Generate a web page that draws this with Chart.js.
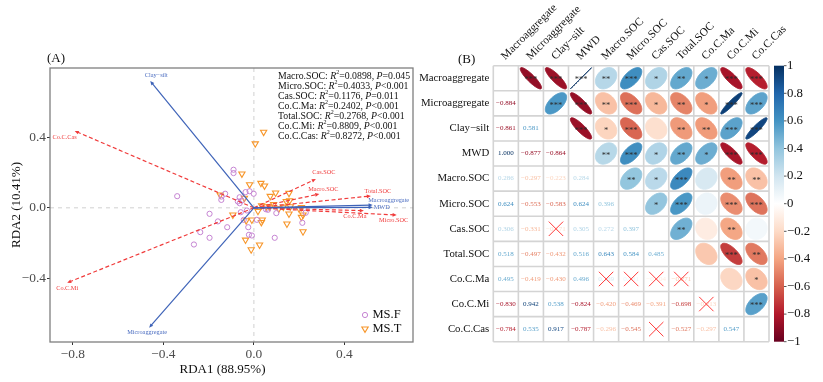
<!DOCTYPE html>
<html><head><meta charset="utf-8">
<script src="https://cdn.jsdelivr.net/npm/chart.js@4.4.1/dist/chart.umd.min.js"></script>
<style>
html,body{margin:0;padding:0;background:#fff;}
#wrap{position:relative;width:823px;height:382px;overflow:hidden;background:#fff;}
#cA{position:absolute;left:0;top:0;}
#cB{position:absolute;left:400px;top:0;}
</style></head><body>
<div id="wrap"><canvas id="cA" width="420" height="382"></canvas><canvas id="cB" width="423" height="382"></canvas></div>
<script>
// ---------------- DATA: panel A (RDA) ----------------
const msF_x = [-0.090,-0.090,-0.037,-0.019,-0.001,-0.339,-0.127,-0.143,-0.144,-0.063,-0.071,-0.054,-0.063,0.062,-0.196,-0.058,-0.031,0.099,0.229,-0.159,-0.045,0.013,0.214,-0.118,-0.025,-0.237,-0.022,-0.009,-0.196,0.092,-0.265,0.053];
const msF_y = [0.216,0.197,0.089,0.094,0.080,0.066,0.080,0.064,0.045,0.060,0.036,0.041,0.026,-0.011,-0.034,-0.025,-0.015,-0.030,-0.028,-0.077,-0.068,-0.068,-0.085,-0.110,-0.110,-0.138,-0.153,-0.157,-0.170,-0.170,-0.208,-0.008];
const msT_x = [0.043,0.006,-0.053,-0.019,0.031,0.047,0.096,0.155,-0.149,-0.042,0.072,0.143,0.034,0.055,0.087,0.161,0.200,0.018,0.110,0.130,-0.093,0.155,0.217,-0.034,-0.009,0.037,0.033,0.146,0.217,-0.037,0.025,-0.012,0.210,0.210,0.158,0.070];
const msT_y = [0.430,0.364,0.193,0.132,0.140,0.125,0.085,0.083,0.074,0.055,0.066,0.037,0.013,0.007,0.019,0.007,-0.006,-0.019,-0.005,0.005,-0.040,-0.034,-0.040,-0.072,-0.068,-0.068,-0.082,-0.091,-0.135,-0.182,-0.210,-0.237,0.003,-0.053,0.041,0.005];
const groupNames = ['MS.F','MS.T'];

const envNames = ['Clay\u2212silt','Microaggregate','Macroaggregate','MWD'];
const envX = [-0.458,-0.463,0.525,0.525];
const envY = [0.719,-0.680,0.016,0.003];

const respNames = ['Co.C.Cas','Co.C.Mi','Cas.SOC','Macro.SOC','Total.SOC','Micro.SOC','Co.C.Ma'];
const respX = [-0.792,-0.825,0.274,0.289,0.517,0.631,0.486];
const respY = [0.436,-0.425,0.163,0.078,0.067,-0.041,-0.016];

const fitNames = ['Macro.SOC','Micro.SOC','Cas.SOC','Co.C.Ma','Total.SOC','Co.C.Mi','Co.C.Cas'];
const fitR2 = ['0.0898','0.4033','0.1176','0.2402','0.2768','0.8809','0.8272'];
const fitP = ['=0.045','<0.001','=0.011','<0.001','<0.001','<0.001','<0.001'];

const xTicksA = [-0.8,-0.4,0,0.4];
const yTicksA = [-0.4,0,0.4];
const xTitleA = 'RDA1 (88.95%)';
const yTitleA = 'RDA2 (10.41%)';

// ---------------- DATA: panel B (correlation) ----------------
const corrVars = ['Macroaggregate','Microaggregate','Clay\u2212silt','MWD','Macro.SOC','Micro.SOC','Cas.SOC','Total.SOC','Co.C.Ma','Co.C.Mi','Co.C.Cas'];
const corrLower = [
  [],
  [-0.884],
  [-0.861,0.581],
  [1.000,-0.877,-0.864],
  [0.286,-0.297,-0.223,0.284],
  [0.624,-0.553,-0.583,0.624,0.396],
  [0.306,-0.331,-0.171,0.305,0.272,0.397],
  [0.518,-0.497,-0.432,0.516,0.643,0.584,0.485],
  [0.495,-0.419,-0.430,0.496,0.169,0.081,-0.104,-0.271],
  [-0.830,0.942,0.538,-0.824,-0.420,-0.469,-0.391,-0.698,-0.213],
  [-0.784,0.535,0.917,-0.787,-0.296,-0.545,0.052,-0.527,-0.297,0.547]
];
const corrStars = [
  ['***','***','***','**','***','*','**','*','***','***'],
  ['***','***','**','***','*','**','*','***','***'],
  ['***','*','***','','**','**','***','***'],
  ['**','***','*','**','*','***','***'],
  ['**','*','***','','**','**'],
  ['*','***','','***','***'],
  ['**','','**',''],
  ['','***','**'],
  ['','*'],
  ['***'],
  []
];
const cbTicks = [1,0.8,0.6,0.4,0.2,0,-0.2,-0.4,-0.6,-0.8,-1];

// ---------------- STYLE / LAYOUT ----------------
const FAM = "'Liberation Serif', 'Times New Roman', serif";
const COL_F = '#C584D2', COL_T = '#F7962A';
const COL_ENV = '#3E63B8', COL_RESP = '#F03A3A';
const envNudge = [[6,-6],[-2,5],[16,-4.5],[9,0.5]];
const respNudge = [[-10,6],[0,6],[8,-7],[4,-5],[7,-5],[-3,5],[-9,5.5]];
const RDBU = ['#67001F','#B2182B','#D6604D','#F4A582','#FDDBC7','#FFFFFF','#D1E5F0','#92C5DE','#4393C3','#2166AC','#053061'];

function hex2rgb(h){return [parseInt(h.slice(1,3),16),parseInt(h.slice(3,5),16),parseInt(h.slice(5,7),16)];}
function corrColor(r){
  const t=(Math.max(-1,Math.min(1,r))+1)/2*10; const i=Math.min(9,Math.floor(t)); const f=t-i;
  const a=hex2rgb(RDBU[i]), b=hex2rgb(RDBU[i+1]);
  return 'rgb('+a.map((v,k)=>Math.round(v+(b[k]-v)*f)).join(',')+')';
}
const minus = v => v<0 ? '\u2212' : '';
function fmt1(v){ const r=Math.round(v*10)/10; return minus(r)+Math.abs(r).toFixed(1); }
function fmtCb(v){ const r=Math.round(v*10)/10; if (r===0) return '0'; if (Math.abs(r)===1) return minus(r)+'1'; return minus(r)+Math.abs(r).toFixed(1); }
function fmt3(v){ return minus(v)+Math.abs(v).toFixed(3); }

function arrow(ctx,x0,y0,x1,y1,color,dash){
  ctx.save(); ctx.strokeStyle=color; ctx.fillStyle=color; ctx.lineWidth=1.2;
  const ang=Math.atan2(y1-y0,x1-x0), hl=4.5;
  ctx.setLineDash(dash||[]);
  ctx.beginPath(); ctx.moveTo(x0,y0); ctx.lineTo(x1-Math.cos(ang)*hl*0.6, y1-Math.sin(ang)*hl*0.6); ctx.stroke();
  ctx.setLineDash([]);
  ctx.beginPath(); ctx.moveTo(x1,y1);
  ctx.lineTo(x1-hl*Math.cos(ang-0.42), y1-hl*Math.sin(ang-0.42));
  ctx.lineTo(x1-hl*Math.cos(ang+0.42), y1-hl*Math.sin(ang+0.42));
  ctx.closePath(); ctx.fill(); ctx.restore();
}

const plotA = {
  id:'plotA',
  beforeDatasetsDraw(chart){
    const ctx=chart.ctx, a=chart.chartArea, xs=chart.scales.x, ys=chart.scales.y;
    ctx.save(); ctx.strokeStyle='#D0D0D0'; ctx.lineWidth=1; ctx.setLineDash([4,4]);
    const x0=xs.getPixelForValue(0), y0=ys.getPixelForValue(0);
    ctx.beginPath(); ctx.moveTo(x0,a.top); ctx.lineTo(x0,a.bottom); ctx.moveTo(a.left,y0); ctx.lineTo(a.right,y0); ctx.stroke();
    ctx.restore();
  },
  afterDraw(chart){
    const ctx=chart.ctx, a=chart.chartArea, xs=chart.scales.x, ys=chart.scales.y;
    const ox=xs.getPixelForValue(0), oy=ys.getPixelForValue(0);
    // arrows
    respNames.forEach((n,i)=>{ arrow(ctx,ox,oy,xs.getPixelForValue(respX[i]),ys.getPixelForValue(respY[i]),COL_RESP,[4,2.5]); });
    envNames.forEach((n,i)=>{ arrow(ctx,ox,oy,xs.getPixelForValue(envX[i]),ys.getPixelForValue(envY[i]),COL_ENV,null); });
    ctx.save(); ctx.font='6.3px '+FAM; ctx.textAlign='center'; ctx.textBaseline='middle';
    ctx.fillStyle=COL_RESP;
    respNames.forEach((n,i)=>{ ctx.fillText(n, xs.getPixelForValue(respX[i])+respNudge[i][0], ys.getPixelForValue(respY[i])+respNudge[i][1]); });
    ctx.fillStyle='#4A6CC0';
    envNames.forEach((n,i)=>{ ctx.fillText(n, xs.getPixelForValue(envX[i])+envNudge[i][0], ys.getPixelForValue(envY[i])+envNudge[i][1]); });
    ctx.restore();
    // border
    ctx.save(); ctx.strokeStyle='#7F7F7F'; ctx.lineWidth=1.3; ctx.strokeRect(a.left,a.top,a.right-a.left,a.bottom-a.top); ctx.restore();
    // annotation
    ctx.save(); ctx.fillStyle='#111'; ctx.textBaseline='middle'; ctx.textAlign='left';
    fitNames.forEach((n,i)=>{
      let x=278, y=76+i*10;
      const parts=[[n+': ','',0,9.8],['R','italic ',0,9.8],['2','',-3.5,6],['='+fitR2[i]+', ','',0,9.8],['P','italic ',0,9.8],[fitP[i],'',0,9.8]];
      parts.forEach(p=>{ ctx.font=p[1]+p[3]+'px '+FAM; ctx.fillText(p[0],x,y+p[2]); x+=ctx.measureText(p[0]).width; });
    });
    ctx.restore();
    // legend
    ctx.save();
    const lx=a.right-48, ly1=a.bottom-27, ly2=a.bottom-13;
    ctx.strokeStyle=COL_F; ctx.lineWidth=1; ctx.beginPath(); ctx.arc(lx,ly1,2.6,0,Math.PI*2); ctx.stroke();
    ctx.strokeStyle=COL_T; ctx.lineWidth=1.1; ctx.beginPath(); ctx.moveTo(lx-3.2,ly2-2); ctx.lineTo(lx+3.2,ly2-2); ctx.lineTo(lx,ly2+3.4); ctx.closePath(); ctx.stroke();
    ctx.fillStyle='#111'; ctx.font='12.5px '+FAM; ctx.textBaseline='middle';
    ctx.fillText(groupNames[0], lx+7.5, ly1); ctx.fillText(groupNames[1], lx+7.5, ly2);
    ctx.restore();
    // titles
    ctx.save(); ctx.fillStyle='#111'; ctx.font='13px '+FAM; ctx.textAlign='center'; ctx.textBaseline='middle';
    ctx.fillText(xTitleA, 222.5, 370);
    ctx.translate(17,205); ctx.rotate(-Math.PI/2); ctx.fillText(yTitleA,0,0);
    ctx.restore();
    ctx.save(); ctx.fillStyle='#111'; ctx.font='13px '+FAM; ctx.textBaseline='middle'; ctx.fillText('(A)',47,59); ctx.restore();
  }
};

const tickFontA = {family:FAM, size:13.4};
new Chart(document.getElementById('cA'), {
  type:'scatter',
  data:{datasets:[
    {label:groupNames[0], data:msF_x.map((x,i)=>({x, y:msF_y[i]})), pointStyle:'circle', pointRadius:2.6, pointHoverRadius:2.6, borderColor:COL_F, backgroundColor:'rgba(0,0,0,0)', borderWidth:1},
    {label:groupNames[1], data:msT_x.map((x,i)=>({x, y:msT_y[i]})), pointStyle:'triangle', rotation:180, pointRadius:3.6, pointHoverRadius:3.6, borderColor:COL_T, backgroundColor:'rgba(0,0,0,0)', borderWidth:1.1}
  ]},
  options:{
    responsive:false, animation:false, devicePixelRatio:1,
    layout:{padding:{top:68,right:7,left:0,bottom:0}},
    plugins:{legend:{display:false}, tooltip:{enabled:false}},
    scales:{
      x:{type:'linear', min:-0.901, max:0.703,
         afterBuildTicks:s=>{s.ticks=xTicksA.map(v=>({value:v}));},
         afterFit:s=>{s.height=40;},
         grid:{drawOnChartArea:false, tickLength:3, tickColor:'#333', color:'#333'}, border:{display:false},
         ticks:{padding:1, color:'#4D4D4D', font:tickFontA, callback:v=>fmt1(v), maxRotation:0, autoSkip:false}},
      y:{type:'linear', min:-0.761, max:0.793,
         afterBuildTicks:s=>{s.ticks=yTicksA.map(v=>({value:v}));},
         afterFit:s=>{s.width=50;},
         grid:{drawOnChartArea:false, tickLength:3, tickColor:'#333', color:'#333'}, border:{display:false},
         ticks:{padding:1, color:'#4D4D4D', font:tickFontA, callback:v=>fmt1(v), autoSkip:false}}
    }
  },
  plugins:[plotA]
});

// ---------------- Panel B ----------------
function drawEllipse(ctx,cx,cy,cw,ch,r,color){
  const a=Math.acos(Math.max(-1,Math.min(1,r)));
  ctx.beginPath();
  for(let k=0;k<=90;k++){
    const t=k/90*2*Math.PI;
    const x=Math.cos(t+a/2)*0.425*cw, y=Math.cos(t-a/2)*0.425*ch;
    if(k===0) ctx.moveTo(cx+x,cy-y); else ctx.lineTo(cx+x,cy-y);
  }
  ctx.closePath(); ctx.fillStyle=color; ctx.strokeStyle=color; ctx.lineWidth=1; ctx.fill(); ctx.stroke();
}
const plotB = {
  id:'plotB',
  afterDraw(chart){
    const ctx=chart.ctx, a=chart.chartArea, xs=chart.scales.x, ys=chart.scales.y, cb=chart.scales.cb;
    const n=corrVars.length, cw=(a.right-a.left)/n, ch=(a.bottom-a.top)/n;
    ctx.save();
    for(let i=0;i<n;i++){
      for(let j=0;j<n;j++){
        const cx=xs.getPixelForValue(j), cy=ys.getPixelForValue(i);
        if(j>i){
          const r=corrLower[j][i];
          drawEllipse(ctx,cx,cy,cw,ch,r,corrColor(r));
          const st=corrStars[i][j-i-1];
          if(st){ ctx.fillStyle='#2b2b2b'; ctx.font='8.5px '+FAM; ctx.textAlign='center'; ctx.textBaseline='middle'; ctx.fillText(st,cx,cy+2); }
        } else if(j<i){
          const r=corrLower[i][j];
          ctx.fillStyle=corrColor(r); ctx.font='7px '+FAM; ctx.textAlign='center'; ctx.textBaseline='middle';
          ctx.fillText(fmt3(r),cx,cy);
          if(corrStars[j][i-j-1]===''){
            ctx.strokeStyle='#FF3B3B'; ctx.lineWidth=1; const h=7.2;
            ctx.beginPath(); ctx.moveTo(cx-h,cy-h); ctx.lineTo(cx+h,cy+h); ctx.moveTo(cx+h,cy-h); ctx.lineTo(cx-h,cy+h); ctx.stroke();
          }
        }
      }
    }
    // grid
    ctx.strokeStyle='#D4D4D4'; ctx.lineWidth=1.6;
    ctx.beginPath();
    for(let k=0;k<=n;k++){
      const x=a.left+k*cw, y=a.top+k*ch;
      ctx.moveTo(x,a.top); ctx.lineTo(x,a.bottom); ctx.moveTo(a.left,y); ctx.lineTo(a.right,y);
    }
    ctx.stroke();
    // column labels
    ctx.fillStyle='#111'; ctx.font='11.3px '+FAM; ctx.textAlign='left'; ctx.textBaseline='alphabetic';
    corrVars.forEach((v,j)=>{
      ctx.save(); ctx.translate(xs.getPixelForValue(j)-0.5, a.top-5.5); ctx.rotate(-Math.PI/4); ctx.fillText(v,0,0); ctx.restore();
    });
    // colorbar
    const bx=a.right+5, bw=10, top=cb.getPixelForValue(1), bot=cb.getPixelForValue(-1);
    const g=ctx.createLinearGradient(0,bot,0,top);
    RDBU.forEach((c,k)=>g.addColorStop(k/10,c));
    ctx.fillStyle=g; ctx.fillRect(bx,top,bw,bot-top);
    ctx.strokeStyle='#555'; ctx.lineWidth=1;
    ctx.beginPath();
    cbTicks.forEach(v=>{ const y=cb.getPixelForValue(v); ctx.moveTo(bx+bw,y); ctx.lineTo(bx+bw+2.5,y); });
    ctx.stroke();
    // panel tag
    ctx.fillStyle='#111'; ctx.font='13px '+FAM; ctx.textAlign='left'; ctx.textBaseline='middle'; ctx.fillText('(B)',58,60);
    ctx.restore();
  }
};

new Chart(document.getElementById('cB'), {
  type:'scatter',
  data:{datasets:[]},
  options:{
    responsive:false, animation:false, devicePixelRatio:1,
    layout:{padding:{top:0,right:0,left:0,bottom:40.3}},
    plugins:{legend:{display:false}, tooltip:{enabled:false}},
    scales:{
      x:{type:'category', labels:corrVars, position:'top', offset:true,
         afterFit:s=>{s.height=65.7;},
         grid:{display:false}, border:{display:false}, ticks:{display:false}},
      y:{type:'category', labels:corrVars, position:'left', offset:true,
         afterFit:s=>{s.width=93.3;},
         grid:{display:false, drawTicks:false}, border:{display:false},
         ticks:{padding:4, color:'#111', font:{family:FAM, size:10.8}, autoSkip:false}},
      cb:{type:'linear', position:'right', min:-1, max:1,
         afterBuildTicks:s=>{s.ticks=cbTicks.map(v=>({value:v}));},
         afterFit:s=>{s.width=54;},
         grid:{display:false, drawTicks:false}, border:{display:false},
         ticks:{padding:18, color:'#111', font:{family:FAM, size:12.8}, callback:v=>fmtCb(v), autoSkip:false}}
    }
  },
  plugins:[plotB]
});
</script>
</body></html>
